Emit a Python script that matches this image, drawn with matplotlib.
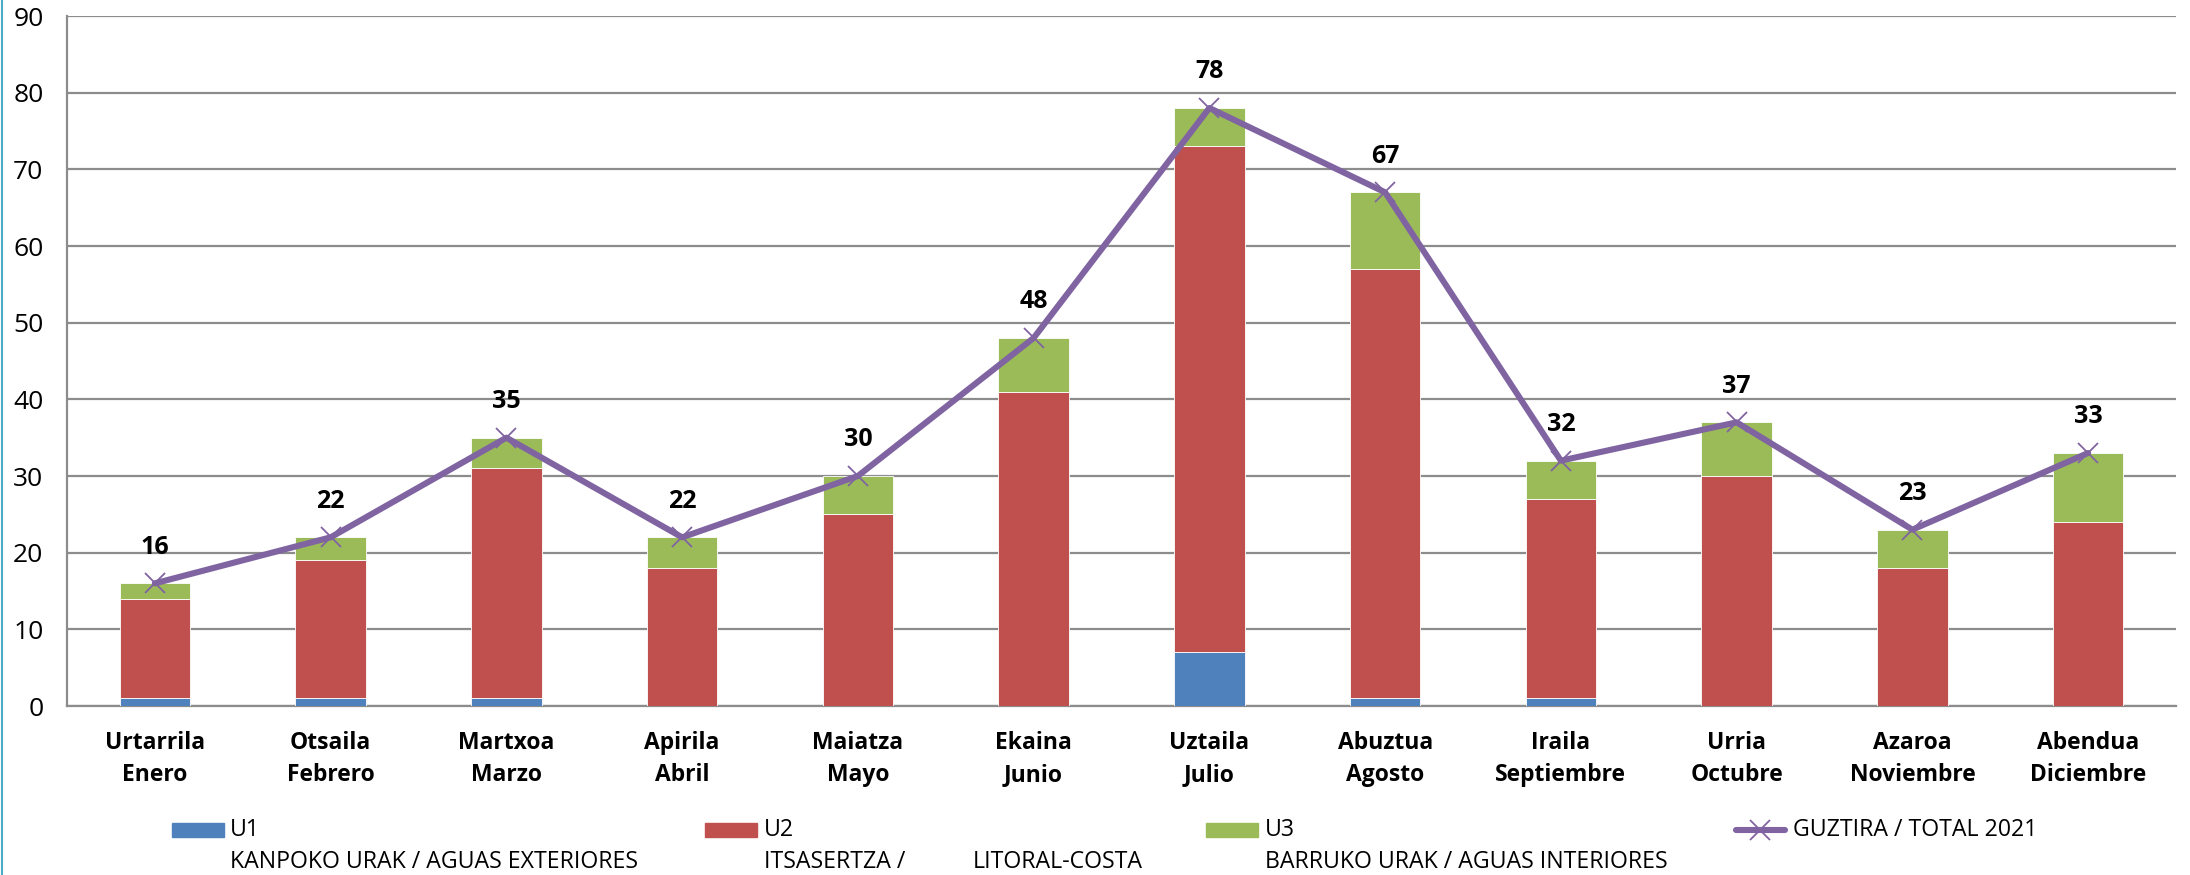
import matplotlib
matplotlib.use('Agg')
import matplotlib.pyplot as plt
from matplotlib.patches import Rectangle
from matplotlib.lines import Line2D
import numpy as np

plt.rcParams['font.family'] = ['Open Sans', 'DejaVu Sans']

# ---- data ----
months_eu = ['Urtarrila', 'Otsaila', 'Martxoa', 'Apirila', 'Maiatza', 'Ekaina',
             'Uztaila', 'Abuztua', 'Iraila', 'Urria', 'Azaroa', 'Abendua']
months_es = ['Enero', 'Febrero', 'Marzo', 'Abril', 'Mayo', 'Junio',
             'Julio', 'Agosto', 'Septiembre', 'Octubre', 'Noviembre', 'Diciembre']
u1 = [1, 1, 1, 0, 0, 0, 7, 1, 1, 0, 0, 0]
u2 = [13, 18, 30, 18, 25, 41, 66, 56, 26, 30, 18, 24]
u3 = [2, 3, 4, 4, 5, 7, 5, 10, 5, 7, 5, 9]
total = [16, 22, 35, 22, 30, 48, 78, 67, 32, 37, 23, 33]
y_ticks = list(range(0, 91, 10))
series_names = ['U1', 'U2', 'U3']
series_desc = ['KANPOKO URAK / AGUAS EXTERIORES', 'ITSASERTZA /', 'BARRUKO URAK / AGUAS INTERIORES']
u2_desc_extra = 'LITORAL-COSTA'
line_name = 'GUZTIRA / TOTAL 2021'

c_u1 = '#4F81BD'
c_u2 = '#C0504D'
c_u3 = '#9BBB59'
c_line = '#8064A2'
c_grid = '#8C8C8C'

W, H = 2190, 875
fig = plt.figure(figsize=(W / 100, H / 100), dpi=100)
ax = fig.add_axes([67 / W, 1 - 706 / H, (2176 - 67) / W, (706 - 16) / H])

x = np.arange(len(months_eu))
bw = 0.4
b1 = np.array(u1)
b2 = np.array(u2)
b3 = np.array(u3)
ax.bar(x, b1, bw, color=c_u1, edgecolor='white', linewidth=0.6, zorder=3)
ax.bar(x, b2, bw, bottom=b1, color=c_u2, edgecolor='white', linewidth=0.6, zorder=3)
ax.bar(x, b3, bw, bottom=b1 + b2, color=c_u3, edgecolor='white', linewidth=0.6, zorder=3)
ax.plot(x, total, color=c_line, lw=4.4, marker='x', ms=14, mew=1.3, zorder=5,
        solid_capstyle='round', solid_joinstyle='round')

for xi, t in zip(x, total):
    ax.annotate(str(t), (xi, t), xytext=(0, 26), textcoords='offset points',
                ha='center', va='center', fontsize=18, fontweight='bold', color='black')

ax.set_xlim(-0.5, len(x) - 0.5)
ax.set_ylim(0, 90)
ax.set_yticks(y_ticks)
ax.set_yticklabels([str(v) for v in y_ticks], fontsize=19)
ax.set_xticks(x)
ax.set_xticklabels([f'{a}\n{b}' for a, b in zip(months_eu, months_es)],
                   fontsize=16.5, fontweight='bold', linespacing=1.45)
ax.tick_params(axis='y', length=0, pad=17)
ax.tick_params(axis='x', length=0, pad=18)
ax.yaxis.grid(True, color=c_grid, lw=1.6)
ax.set_axisbelow(True)
for s in ['top', 'right']:
    ax.spines[s].set_visible(False)
for s in ['left', 'bottom']:
    ax.spines[s].set_color(c_grid)
    ax.spines[s].set_linewidth(1.6)

# ---- legend (manual, in figure pixels) ----
def fx(px):
    return px / W

def fy(py):
    return 1 - py / H

patch_x = [172, 705, 1206]
text_x = [230, 764, 1265]
colors = [c_u1, c_u2, c_u3]
fs_leg = 16.7
for px0, tx, col, nm, ds in zip(patch_x, text_x, colors, series_names, series_desc):
    fig.add_artist(Rectangle((fx(px0), fy(837)), fx(52), 14 / H, color=col,
                             transform=fig.transFigure))
    fig.text(fx(tx), fy(830), nm, fontsize=fs_leg, ha='left', va='center')
    fig.text(fx(tx), fy(862), ds, fontsize=fs_leg, ha='left', va='center')
fig.text(fx(973), fy(862), u2_desc_extra, fontsize=fs_leg, ha='left', va='center')

fig.add_artist(Line2D([fx(1736), fx(1785)], [fy(830), fy(830)], color=c_line, lw=4.4,
                      solid_capstyle='round', transform=fig.transFigure))
fig.add_artist(Line2D([fx(1760)], [fy(830)], color=c_line, marker='x', ms=14, mew=1.3,
                      linestyle='none', transform=fig.transFigure))
fig.text(fx(1793), fy(830), line_name, fontsize=fs_leg, ha='left', va='center')

# left border line
fig.add_artist(Line2D([fx(1.5), fx(1.5)], [0, 1], color='#4BACC6', lw=1.5,
                      transform=fig.transFigure))

fig.savefig('out.png', dpi=100, facecolor='white')
